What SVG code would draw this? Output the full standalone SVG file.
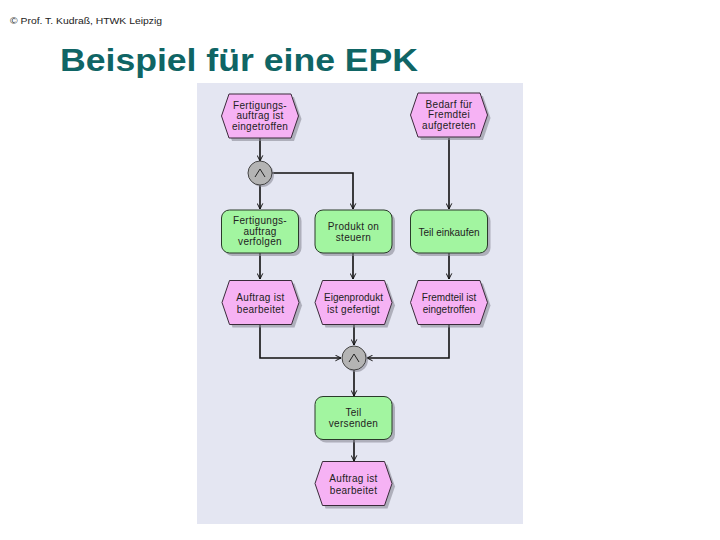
<svg xmlns="http://www.w3.org/2000/svg" width="720" height="540" viewBox="0 0 720 540">
<defs>
<style>
.ev{fill:#f6b2f4;stroke:#3a2a3a;stroke-width:1}
.fn{fill:#a2f5a0;stroke:#2a3a2a;stroke-width:1}
.sh{fill:#8a8a96;opacity:0.6}
.cn{fill:#b4b4b4;stroke:#444;stroke-width:1}
.t{font-family:"Liberation Sans",Arial,sans-serif;font-size:10px;fill:#222;text-anchor:middle;letter-spacing:0.3px}
.ln{fill:none;stroke:#111;stroke-width:1.6}
</style>
<marker id="ah" viewBox="0 0 10 10" refX="9" refY="5" markerWidth="7" markerHeight="7" orient="auto" markerUnits="userSpaceOnUse">
<path d="M1,1 L9,5 L1,9" fill="none" stroke="#111" stroke-width="1.4"/>
</marker>
<path id="hex" d="M-31,-22 L31,-22 L38.5,0 L31,22 L-31,22 L-38.5,0 Z"/>
<rect id="box" x="-38.5" y="-21.5" width="77" height="43" rx="8"/>
</defs>
<text x="10" y="24" font-family="Liberation Sans,Arial,sans-serif" font-size="9" fill="#222" textLength="152" lengthAdjust="spacingAndGlyphs">© Prof. T. Kudraß, HTWK Leipzig</text>
<text x="60" y="71" font-family="Liberation Sans,Arial,sans-serif" font-size="31" font-weight="bold" fill="#0f6565" textLength="358" lengthAdjust="spacingAndGlyphs">Beispiel für eine EPK</text>
<rect x="197" y="83" width="326" height="441" fill="#e4e6f2"/>
<g id="connectors">
<path class="ln" d="M260,138 V161" marker-end="url(#ah)"/>
<path class="ln" d="M260,185 V209" marker-end="url(#ah)"/>
<path class="ln" d="M272,173 H353 V209" marker-end="url(#ah)"/>
<path class="ln" d="M449,138 V209" marker-end="url(#ah)"/>
<path class="ln" d="M260,253 V279" marker-end="url(#ah)"/>
<path class="ln" d="M353,253 V279" marker-end="url(#ah)"/>
<path class="ln" d="M449,253 V279" marker-end="url(#ah)"/>
<path class="ln" d="M260,325 V358 H341" marker-end="url(#ah)"/>
<path class="ln" d="M354,325 V345" marker-end="url(#ah)"/>
<path class="ln" d="M449,325 V358 H367" marker-end="url(#ah)"/>
<path class="ln" d="M354,370 V396" marker-end="url(#ah)"/>
<path class="ln" d="M354,440 V461" marker-end="url(#ah)"/>
</g>
<g id="e1" transform="translate(260,116)"><use href="#hex" class="sh" x="3" y="3"/><use href="#hex" class="ev"/>
<text class="t" y="-7.5">Fertigungs-</text><text class="t" y="3">auftrag ist</text><text class="t" y="13.5">eingetroffen</text></g>
<g id="e2" transform="translate(449,115)"><use href="#hex" class="sh" x="3" y="3"/><use href="#hex" class="ev"/>
<text class="t" y="-7.5">Bedarf für</text><text class="t" y="3">Fremdtei</text><text class="t" y="13.5">aufgetreten</text></g>
<g id="c1" transform="translate(260,173)"><circle r="12" class="sh" cx="2" cy="2"/><circle r="12" class="cn"/>
<path d="M-5,4 L0,-4 L5,4" fill="none" stroke="#222" stroke-width="1"/></g>
<g id="f1" transform="translate(260,231.5)"><use href="#box" class="sh" x="3" y="3"/><use href="#box" class="fn"/>
<text class="t" y="-7.5">Fertigungs-</text><text class="t" y="3">auftrag</text><text class="t" y="13.5">verfolgen</text></g>
<g id="f2" transform="translate(353.5,231.5)"><use href="#box" class="sh" x="3" y="3"/><use href="#box" class="fn"/>
<text class="t" y="-2">Produkt on</text><text class="t" y="9">steuern</text></g>
<g id="f3" transform="translate(449,231.5)"><use href="#box" class="sh" x="3" y="3"/><use href="#box" class="fn"/>
<text class="t" y="4" style="letter-spacing:0">Teil einkaufen</text></g>
<g id="e3" transform="translate(260.5,302.5)"><use href="#hex" class="sh" x="3" y="3"/><use href="#hex" class="ev"/>
<text class="t" y="-2">Auftrag ist</text><text class="t" y="10">bearbeitet</text></g>
<g id="e4" transform="translate(353.5,302.5)"><use href="#hex" class="sh" x="3" y="3"/><use href="#hex" class="ev"/>
<text class="t" y="-2" style="letter-spacing:0">Eigenprodukt</text><text class="t" y="10">ist gefertigt</text></g>
<g id="e5" transform="translate(449,302.5)"><use href="#hex" class="sh" x="3" y="3"/><use href="#hex" class="ev"/>
<text class="t" y="-2" style="letter-spacing:0">Fremdteil ist</text><text class="t" y="10" style="letter-spacing:0">eingetroffen</text></g>
<g id="c2" transform="translate(354,358)"><circle r="12" class="sh" cx="2" cy="2"/><circle r="12" class="cn"/>
<path d="M-5,4 L0,-4 L5,4" fill="none" stroke="#222" stroke-width="1"/></g>
<g id="f4" transform="translate(353.5,418)"><use href="#box" class="sh" x="3" y="3"/><use href="#box" class="fn"/>
<text class="t" y="-2">Teil</text><text class="t" y="9">versenden</text></g>
<g id="e6" transform="translate(353.5,483.5)"><use href="#hex" class="sh" x="3" y="3"/><use href="#hex" class="ev"/>
<text class="t" y="-2">Auftrag ist</text><text class="t" y="10">bearbeitet</text></g>
</svg>
